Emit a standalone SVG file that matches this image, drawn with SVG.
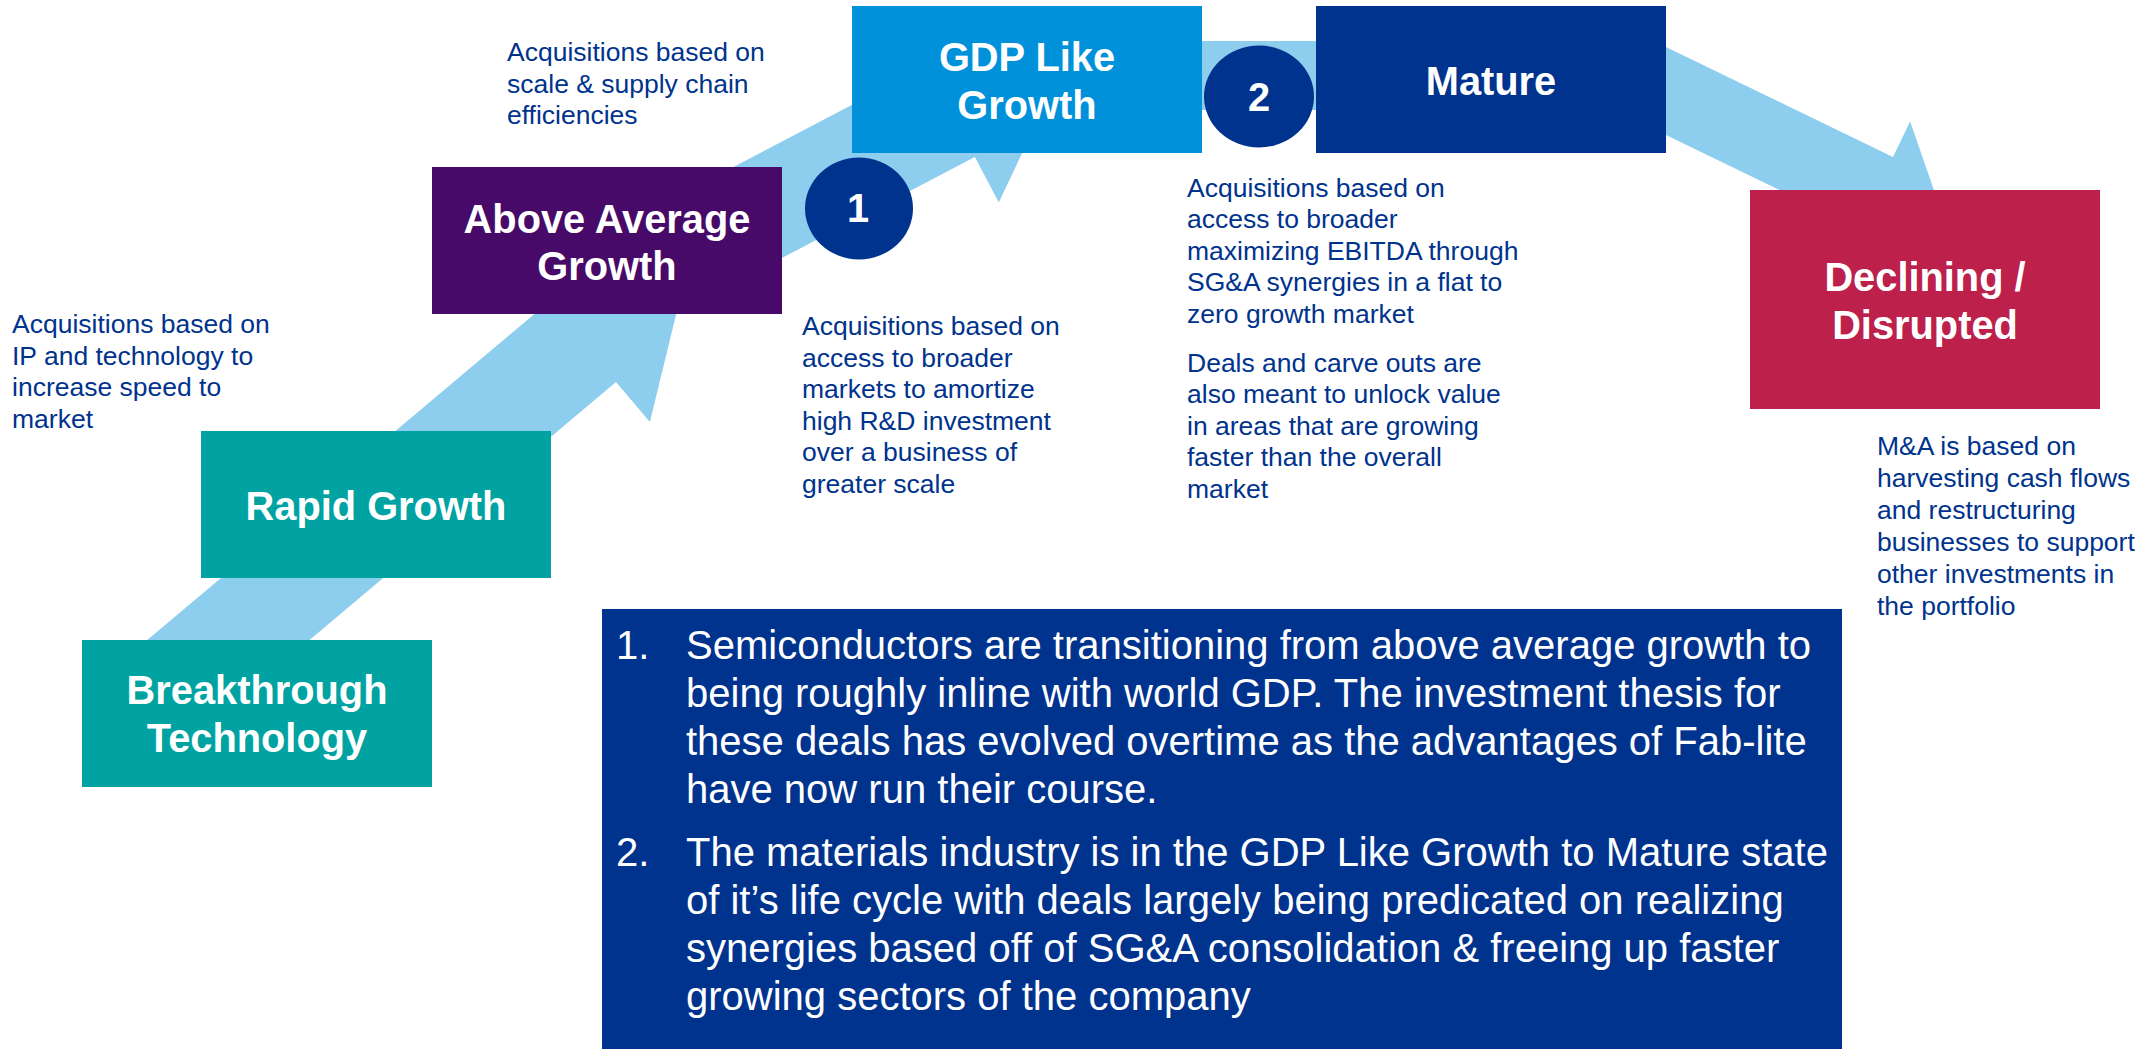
<svg xmlns="http://www.w3.org/2000/svg" width="2149" height="1049" viewBox="0 0 2149 1049">
  <style>
    text { font-family: "Liberation Sans", Arial, sans-serif; }
    .band { fill: #8DCDEE; }
    .label { fill: #FFFFFF; font-weight: bold; font-size: 39.8px; text-anchor: middle; }
    .note { fill: #00338D; font-size: 26.5px; }
    .body { fill: #FFFFFF; font-size: 40px; }
    .teal { fill: #00A3A1; }
    .purple { fill: #470A68; }
    .sky { fill: #0091DA; }
    .navy { fill: #00338D; }
    .red { fill: #BC204B; }
  </style>

  <!-- life-cycle band: block arrows running behind the stage boxes -->
  <g id="connectors">
    <polygon id="arrow-rapid-to-above" class="band" points="185.5,744.5 616,382 649.9,422 692,249 514.5,262.2 548.4,302.2 117.9,664.7"/>
    <polygon id="arrow-above-to-gdp" class="band" points="727.9,286.2 974.9,157 998.8,202.6 1071.5,48.2 903.2,20 927.1,65.6 680.1,194.8"/>
    <polygon id="arrow-gdp-to-mature" class="band" points="1100,41 1340,41 1340,22 1400,75.5 1340,129 1340,110 1100,110"/>
    <polygon id="arrow-mature-to-declining" class="band" points="1629.3,29.2 1893,157 1910.1,121.5 1946.8,227 1841.3,263.7 1858.4,228.2 1594.7,100.4"/>
  </g>

  <!-- stage boxes -->
  <g id="node-breakthrough">
    <rect class="teal" x="82" y="640" width="350" height="147"/>
    <text class="label" x="257" y="704">Breakthrough</text>
    <text class="label" x="257" y="752">Technology</text>
  </g>
  <g id="node-rapid">
    <rect class="teal" x="201" y="431" width="350" height="147"/>
    <text class="label" x="376" y="520">Rapid Growth</text>
  </g>
  <g id="node-above">
    <rect class="purple" x="432" y="167" width="350" height="147"/>
    <text class="label" x="607" y="233">Above Average</text>
    <text class="label" x="607" y="280">Growth</text>
  </g>
  <g id="node-gdp">
    <rect class="sky" x="852" y="6" width="350" height="147"/>
    <text class="label" x="1027" y="71">GDP Like</text>
    <text class="label" x="1027" y="119">Growth</text>
  </g>
  <g id="node-mature">
    <rect class="navy" x="1316" y="6" width="350" height="147"/>
    <text class="label" x="1491" y="95">Mature</text>
  </g>
  <g id="node-declining">
    <rect class="red" x="1750" y="190" width="350" height="219"/>
    <text class="label" x="1925" y="291">Declining /</text>
    <text class="label" x="1925" y="339">Disrupted</text>
  </g>

  <!-- numbered markers -->
  <g id="marker-1">
    <ellipse class="navy" cx="859" cy="208.5" rx="54" ry="51"/>
    <text class="label" x="858" y="222">1</text>
  </g>
  <g id="marker-2">
    <ellipse class="navy" cx="1259" cy="96.5" rx="55" ry="51"/>
    <text class="label" x="1259" y="111">2</text>
  </g>

  <!-- stage annotations -->
  <g id="note-breakthrough">
    <text class="note" x="12" y="333">Acquisitions based on</text>
    <text class="note" x="12" y="364.5">IP and technology to</text>
    <text class="note" x="12" y="396">increase speed to</text>
    <text class="note" x="12" y="427.5">market</text>
  </g>
  <g id="note-above">
    <text class="note" x="507" y="61">Acquisitions based on</text>
    <text class="note" x="507" y="92.5">scale &amp; supply chain</text>
    <text class="note" x="507" y="124">efficiencies</text>
  </g>
  <g id="note-gdp">
    <text class="note" x="802" y="335">Acquisitions based on</text>
    <text class="note" x="802" y="366.5">access to broader</text>
    <text class="note" x="802" y="398">markets to amortize</text>
    <text class="note" x="802" y="429.5">high R&amp;D investment</text>
    <text class="note" x="802" y="461">over a business of</text>
    <text class="note" x="802" y="492.5">greater scale</text>
  </g>
  <g id="note-mature">
    <text class="note" x="1187" y="196.5">Acquisitions based on</text>
    <text class="note" x="1187" y="228">access to broader</text>
    <text class="note" x="1187" y="259.5">maximizing EBITDA through</text>
    <text class="note" x="1187" y="291">SG&amp;A synergies in a flat to</text>
    <text class="note" x="1187" y="322.5">zero growth market</text>
    <text class="note" x="1187" y="371.5">Deals and carve outs are</text>
    <text class="note" x="1187" y="403">also meant to unlock value</text>
    <text class="note" x="1187" y="434.5">in areas that are growing</text>
    <text class="note" x="1187" y="466">faster than the overall</text>
    <text class="note" x="1187" y="497.5">market</text>
  </g>
  <g id="note-declining">
    <text class="note" x="1877" y="455">M&amp;A is based on</text>
    <text class="note" x="1877" y="487">harvesting cash flows</text>
    <text class="note" x="1877" y="519">and restructuring</text>
    <text class="note" x="1877" y="551">businesses to support</text>
    <text class="note" x="1877" y="583">other investments in</text>
    <text class="note" x="1877" y="615">the portfolio</text>
  </g>

  <!-- commentary panel -->
  <g id="commentary">
    <rect class="navy" x="602" y="609" width="1240" height="440"/>
    <text class="body" x="616" y="658.5">1.</text>
    <text class="body" x="686" y="658.5">Semiconductors are transitioning from above average growth to</text>
    <text class="body" x="686" y="706.5">being roughly inline with world GDP. The investment thesis for</text>
    <text class="body" x="686" y="754.5">these deals has evolved overtime as the advantages of Fab-lite</text>
    <text class="body" x="686" y="802.5">have now run their course.</text>
    <text class="body" x="616" y="865.5">2.</text>
    <text class="body" x="686" y="865.5">The materials industry is in the GDP Like Growth to Mature state</text>
    <text class="body" x="686" y="913.5">of it’s life cycle with deals largely being predicated on realizing</text>
    <text class="body" x="686" y="961.5">synergies based off of SG&amp;A consolidation &amp; freeing up faster</text>
    <text class="body" x="686" y="1009.5">growing sectors of the company</text>
  </g>
</svg>
